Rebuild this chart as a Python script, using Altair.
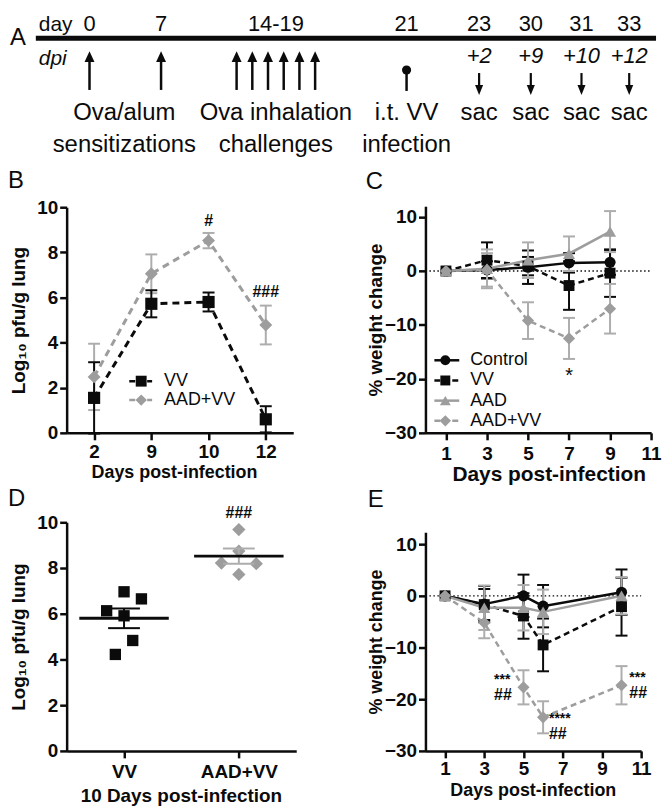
import altair as alt
import pandas as pd

FONT = "Liberation Sans"
BLK = "#0b0b0b"
GRY = "#9d9d9d"
EGRY = "#adadad"

# ---------------- Panel A (timeline) ----------------
a_scale_days = [0, 7, 14, 19, 21, 23, 30, 31, 33]
a_day_label_pos = [0, 7, 16.5, 21, 23, 30, 31, 33]
a_day_labels = ["0", "7", "14-19", "21", "23", "30", "31", "33"]
a_ova_days = [0, 7, 14, 15, 16, 17, 18, 19]
a_vv_day = [21]
a_sac_days = [23, 30, 31, 33]
a_dpi = ["+2", "+9", "+10", "+12"]
a_top_pos = [3.4, 16.5, 21, 23, 30, 31, 33]
a_top_text = ["Ova/alum", "Ova inhalation", "i.t. VV", "sac", "sac", "sac", "sac"]
a_bot_pos = [3.4, 16.5, 21]
a_bot_text = ["sensitizations", "challenges", "infection"]

# ---------------- Panel B ----------------
b_days = ["2", "9", "10", "12"]
b_vv_mean = [1.55, 5.72, 5.8, 0.6]
b_vv_sem = [1.58, 0.6, 0.42, 0.58]
b_aad_mean = [2.48, 7.05, 8.52, 4.78]
b_aad_sem = [1.47, 0.86, 0.34, 0.86]
b_ann_day = ["10", "12"]
b_ann_val = [9.4, 6.25]
b_ann_text = ["#", "###"]

# ---------------- Panel C ----------------
c_days = [1, 3, 5, 7, 9]
c_ctrl_mean = [0, 0.2, 0.7, 1.5, 1.6]
c_ctrl_sem = [0, 1.6, 3.1, 1.8, 2.3]
c_vv_mean = [0, 2.0, 0.9, -2.7, -0.4]
c_vv_sem = [0, 3.3, 1.7, 4.5, 4.4]
c_aad_mean = [0, 0.4, 2.0, 3.2, 7.3]
c_aad_sem = [0, 3.6, 3.3, 3.2, 3.8]
c_aadvv_mean = [0, 0.2, -9.2, -12.5, -7.0]
c_aadvv_sem = [0, 3.1, 3.4, 3.8, 4.6]
c_ann_day = [7]
c_ann_val = [-19.5]
c_ann_text = ["*"]

# ---------------- Panel D ----------------
d_groups = ["VV", "AAD+VV"]
d_vv_vals = [6.96, 6.65, 6.13, 5.91, 4.83, 4.22]
d_vv_slot = [0, 2, -2, 0, 1, -1]
d_aad_vals = [9.68, 8.74, 8.22, 8.19, 7.72]
d_aad_slot = [0, 0, -2, 2, 0]
d_means = [5.8, 8.52]
d_sems = [0.43, 0.33]
d_ann_grp = ["AAD+VV"]
d_ann_val = [10.4]
d_ann_text = ["###"]

# ---------------- Panel E ----------------
e_days = [1, 3, 5, 6, 10]
e_ctrl_mean = [0, -1.6, 0.0, -2.0, 0.7]
e_ctrl_sem = [0, 3.5, 4.1, 4.1, 4.4]
e_vv_mean = [0, -1.7, -3.9, -9.5, -2.1]
e_vv_sem = [0, 3.0, 4.4, 5.1, 5.6]
e_aad_mean = [0, -2.3, -2.3, -3.1, 0.0]
e_aad_sem = [0, 4.3, 4.4, 4.3, 3.6]
e_aadvv_mean = [0, -5.2, -17.7, -23.5, -17.3]
e_aadvv_sem = [0, 3.0, 3.3, 3.1, 3.7]
e_star_day = [3.5, 6.3, 10.4]
e_star_val = [-16.3, -23.8, -15.9]
e_star_text = ["***", "****", "***"]
e_hash_day = [3.5, 6.3, 10.4]
e_hash_val = [-19.2, -26.7, -18.85]
e_hash_text = ["##", "##", "##"]

# =====================================================
A_RANGE = [23, 95, 171, 250, 342, 415, 467, 518, 566]
ARROW_UP = "M0,0L0.5,1.1L-0.5,1.1Z"
ARROW_DN = "M0,0L0.45,-1.1L-0.45,-1.1Z"


def ax_a():
    return alt.X("d:Q", scale=alt.Scale(type="linear", domain=a_scale_days, range=A_RANGE,
                                        nice=False, zero=False), axis=None)


def txt(t):
    return pd.DataFrame({"t": [t]})


one = txt("")

a_layers = [
    alt.Chart(one).mark_rule(strokeWidth=0.1, opacity=0).encode(
        x=alt.value(-59), x2=alt.value(0), y=alt.value(0)),
    alt.Chart(txt("A")).mark_text(font=FONT, fontSize=24, align="left", baseline="middle", color=BLK).encode(
        x=alt.value(-57), y=alt.value(25), text="t:N"),
    alt.Chart(txt("day")).mark_text(font=FONT, fontSize=21, align="left", baseline="alphabetic", color=BLK).encode(
        x=alt.value(-28), y=alt.value(18), text="t:N"),
    alt.Chart(pd.DataFrame({"d": a_day_label_pos, "t": a_day_labels})).mark_text(
        font=FONT, fontSize=22, baseline="alphabetic", color=BLK).encode(x=ax_a(), y=alt.value(18), text="t:N"),
    alt.Chart(one).mark_rule(strokeWidth=5, color=BLK).encode(
        x=alt.value(-31), x2=alt.value(593), y=alt.value(25)),
    alt.Chart(txt("dpi")).mark_text(font=FONT, fontSize=21, fontStyle="italic", align="left",
                                    baseline="alphabetic", color=BLK).encode(
        x=alt.value(-28), y=alt.value(52), text="t:N"),
    alt.Chart(pd.DataFrame({"d": a_ova_days})).mark_rule(strokeWidth=2.5, color=BLK).encode(
        x=ax_a(), y=alt.value(77), y2=alt.value(45)),
    alt.Chart(pd.DataFrame({"d": a_ova_days})).mark_point(shape=ARROW_UP, filled=True, size=400, opacity=1,
                                                          color=BLK, strokeWidth=0).encode(
        x=ax_a(), y=alt.value(38)),
    alt.Chart(pd.DataFrame({"d": a_vv_day})).mark_rule(strokeWidth=2.5, color=BLK).encode(
        x=ax_a(), y=alt.value(57), y2=alt.value(78)),
    alt.Chart(pd.DataFrame({"d": a_vv_day})).mark_point(shape="circle", filled=True, size=85, opacity=1,
                                                        color=BLK).encode(x=ax_a(), y=alt.value(57)),
    alt.Chart(pd.DataFrame({"d": a_sac_days, "t": a_dpi})).mark_text(
        font=FONT, fontSize=22, fontStyle="italic", baseline="alphabetic", color=BLK).encode(
        x=ax_a(), y=alt.value(50), text="t:N"),
    alt.Chart(pd.DataFrame({"d": a_sac_days})).mark_rule(strokeWidth=2.2, color=BLK).encode(
        x=ax_a(), y=alt.value(60), y2=alt.value(78)),
    alt.Chart(pd.DataFrame({"d": a_sac_days})).mark_point(shape=ARROW_DN, filled=True, size=324, opacity=1,
                                                          color=BLK, strokeWidth=0).encode(
        x=ax_a(), y=alt.value(82)),
    alt.Chart(pd.DataFrame({"d": a_top_pos, "t": a_top_text})).mark_text(
        font=FONT, fontSize=24, baseline="middle", color=BLK).encode(x=ax_a(), y=alt.value(100), text="t:N"),
    alt.Chart(pd.DataFrame({"d": a_bot_pos, "t": a_bot_text})).mark_text(
        font=FONT, fontSize=24, baseline="middle", color=BLK).encode(x=ax_a(), y=alt.value(132), text="t:N"),
]
panelA = alt.layer(*a_layers).properties(width=228, height=104)

blank = alt.Chart(one).mark_point(opacity=0).encode(
    x=alt.value(0), y=alt.value(0)).properties(width=227, height=104)


# =====================================================
def series_df(x, mean, sem, xname="day"):
    df = pd.DataFrame({xname: x, "mean": mean, "sem": sem})
    df["lo"] = df["mean"] - df["sem"]
    df["hi"] = df["mean"] + df["sem"]
    df["idx"] = list(range(len(df)))
    return df


def series_layers(df, X, Y, color, ecolor, dash, shape, size, lw, cap):
    err = df[df["sem"] > 0]
    e = alt.Chart(err)
    errs = [
        e.mark_rule(color=ecolor, strokeWidth=2).encode(x=X(), y=Y("lo"), y2=alt.Y2("hi")),
        e.mark_tick(orient="horizontal", color=ecolor, size=cap, thickness=2, opacity=1).encode(x=X(), y=Y("lo")),
        e.mark_tick(orient="horizontal", color=ecolor, size=cap, thickness=2, opacity=1).encode(x=X(), y=Y("hi")),
    ]
    kw = dict(color=color, strokeWidth=lw)
    if dash:
        kw["strokeDash"] = dash
    line = alt.Chart(df).mark_line(**kw).encode(x=X(), y=Y("mean"), order="idx:Q")
    pts = alt.Chart(df).mark_point(shape=shape, filled=True, size=size, color=color, opacity=1,
                                   strokeWidth=0).encode(x=X(), y=Y("mean"))
    return errs, line, pts


def legend_layers(items, x0, x1, xm, xt, y0, dy):
    out = []
    for i, (name, color, dash, shape, size) in enumerate(items):
        y = y0 + i * dy
        kw = dict(color=color, strokeWidth=2.5)
        if dash:
            kw["strokeDash"] = dash
        out.append(alt.Chart(txt(name)).mark_rule(**kw).encode(x=alt.value(x0), x2=alt.value(x1), y=alt.value(y)))
        out.append(alt.Chart(txt(name)).mark_point(shape=shape, filled=True, size=size, color=color,
                                                   opacity=1, strokeWidth=0).encode(x=alt.value(xm), y=alt.value(y)))
        out.append(alt.Chart(txt(name)).mark_text(font=FONT, fontSize=18, align="left", baseline="middle",
                                                  color=BLK).encode(x=alt.value(xt), y=alt.value(y), text="t:N"))
    return out


def letter(t, x, y):
    return alt.Chart(txt(t)).mark_text(font=FONT, fontSize=24, align="left", baseline="middle", color=BLK).encode(
        x=alt.value(x), y=alt.value(y), text="t:N")


# ---------------- B ----------------
def XB():
    return alt.X("day:O", scale=alt.Scale(type="point", domain=b_days, padding=0.48),
                 axis=alt.Axis(title="Days post-infection", labelAngle=0, titleX=108, titleY=40,
                               titleBaseline="middle", titleFontSize=18, labelPadding=3))


def YB(f):
    return alt.Y(f"{f}:Q", scale=alt.Scale(domain=[0, 10], range=[228, 1], nice=False, zero=False),
                 axis=alt.Axis(values=[0, 2, 4, 6, 8, 10], title="Log₁₀ pfu/g lung", titleX=-48,
                               titleBaseline="middle", titleFontSize=19, labelPadding=2))


bv = series_layers(series_df(b_days, b_vv_mean, b_vv_sem), XB, YB, BLK, BLK, [7, 5], "square", 150, 3, 12)
ba = series_layers(series_df(b_days, b_aad_mean, b_aad_sem), XB, YB, GRY, EGRY, [7, 5], "diamond", 170, 3, 12)
b_ann = alt.Chart(pd.DataFrame({"day": b_ann_day, "v": b_ann_val, "t": b_ann_text})).mark_text(
    font=FONT, fontSize=16, fontWeight="bold", color=BLK).encode(x=XB(), y=YB("v"), text="t:N")
panelB = alt.layer(
    *ba[0], *bv[0], ba[1], bv[1], ba[2], bv[2], b_ann,
    *legend_layers([("VV", BLK, [6, 3], "square", 120), ("AAD+VV", GRY, [6, 3], "diamond", 130)],
                   63, 86, 75, 98, 176, 19),
    letter("B", -59, -25),
).properties(width=228, height=228)


# ---------------- C ----------------
def XC():
    return alt.X("day:Q", scale=alt.Scale(domain=[0, 11], nice=False, zero=False),
                 axis=alt.Axis(values=[1, 3, 5, 7, 9, 11], title="Days post-infection", titleX=124, titleY=42,
                               titleBaseline="middle", titleFontSize=21, labelPadding=5))


def YC(f):
    return alt.Y(f"{f}:Q", scale=alt.Scale(domain=[-30, 12], nice=False, zero=False),
                 axis=alt.Axis(values=[-30, -20, -10, 0, 10], title="% weight change", titleX=-50,
                               titleBaseline="middle", titleFontSize=19, labelPadding=2))


def weight_panel(days, data, X, Y, width, ann_layers, legend, let, letpos):
    (cm, cs), (vm, vs), (am, as_), (avm, avs) = data
    s_c = series_layers(series_df(days, cm, cs), X, Y, BLK, BLK, None, "circle", 125, 2.5, 12)
    s_v = series_layers(series_df(days, vm, vs), X, Y, BLK, BLK, [6, 4], "square", 120, 2.5, 12)
    s_a = series_layers(series_df(days, am, as_), X, Y, GRY, EGRY, None, "triangle-up", 150, 2.5, 12)
    s_av = series_layers(series_df(days, avm, avs), X, Y, GRY, EGRY, [6, 4], "diamond", 150, 2.5, 12)
    zero = alt.Chart(pd.DataFrame({"z": [0]})).mark_rule(strokeDash=[1.5, 2.5], strokeWidth=1.3, color=BLK).encode(
        y=Y("z"), x=alt.value(0), x2=alt.value(width))
    layers = [zero]
    for s in (s_c, s_v, s_a, s_av):
        layers += s[0]
    for s in (s_c, s_v, s_a, s_av):
        layers.append(s[1])
    for s in (s_c, s_v, s_a, s_av):
        layers.append(s[2])
    layers += ann_layers
    if legend:
        layers += legend_layers([("Control", BLK, None, "circle", 100), ("VV", BLK, [6, 3], "square", 100),
                                 ("AAD", GRY, None, "triangle-up", 120), ("AAD+VV", GRY, [6, 3], "diamond", 130)],
                                9, 34, 20, 45, 155, 20.3)
    layers.append(letter(let, *letpos))
    return alt.layer(*layers)


c_ann = alt.Chart(pd.DataFrame({"day": c_ann_day, "v": c_ann_val, "t": c_ann_text})).mark_text(
    font=FONT, fontSize=20, color=BLK).encode(x=XC(), y=YC("v"), text="t:N")

panelC = weight_panel(
    c_days,
    [(c_ctrl_mean, c_ctrl_sem), (c_vv_mean, c_vv_sem), (c_aad_mean, c_aad_sem), (c_aadvv_mean, c_aadvv_sem)],
    XC, YC, 227, [c_ann], True, "C", (-60, -24),
).properties(width=227, height=228)


# ---------------- D ----------------
def XD():
    return alt.X("grp:N", scale=alt.Scale(type="point", domain=d_groups, padding=0.5),
                 axis=alt.Axis(title="10 Days post-infection", labelAngle=0, titleX=115, titleY=45,
                               titleBaseline="middle", titleFontSize=19, labelPadding=5))


def YD(f):
    return alt.Y(f"{f}:Q", scale=alt.Scale(domain=[0, 10], nice=False, zero=False),
                 axis=alt.Axis(values=[0, 2, 4, 6, 8, 10], title="Log₁₀ pfu/g lung", titleX=-48,
                               titleBaseline="middle", titleFontSize=19, labelPadding=2))


XOFF = alt.XOffset("slot:Q", scale=alt.Scale(domain=[-2, 2], range=[-17.5, 17.5]))
d_vv_df = pd.DataFrame({"grp": "VV", "v": d_vv_vals, "slot": d_vv_slot})
d_aad_df = pd.DataFrame({"grp": "AAD+VV", "v": d_aad_vals, "slot": d_aad_slot})
d_sum = pd.DataFrame({"grp": d_groups, "mean": d_means, "sem": d_sems})
d_sum["lo"] = d_sum["mean"] - d_sum["sem"]
d_sum["hi"] = d_sum["mean"] + d_sum["sem"]
d_sum["ec"] = [BLK, EGRY]

d_layers = [
    alt.Chart(d_vv_df).mark_point(shape="square", filled=True, size=130, color=BLK, opacity=1, strokeWidth=0).encode(
        x=XD(), xOffset=XOFF, y=YD("v")),
    alt.Chart(d_aad_df).mark_point(shape="diamond", filled=True, size=180, color=GRY, opacity=1, strokeWidth=0).encode(
        x=XD(), xOffset=XOFF, y=YD("v")),
    alt.Chart(d_sum).mark_rule(strokeWidth=2).encode(x=XD(), y=YD("lo"), y2=alt.Y2("hi"),
                                                      color=alt.Color("ec:N", scale=None)),
    alt.Chart(d_sum).mark_tick(orient="horizontal", size=32, thickness=2, opacity=1).encode(
        x=XD(), y=YD("lo"), color=alt.Color("ec:N", scale=None)),
    alt.Chart(d_sum).mark_tick(orient="horizontal", size=32, thickness=2, opacity=1).encode(
        x=XD(), y=YD("hi"), color=alt.Color("ec:N", scale=None)),
    alt.Chart(d_sum).mark_tick(orient="horizontal", size=90, thickness=3, opacity=1, color=BLK).encode(
        x=XD(), y=YD("mean")),
    alt.Chart(pd.DataFrame({"grp": d_ann_grp, "v": d_ann_val, "t": d_ann_text})).mark_text(
        font=FONT, fontSize=16, fontWeight="bold", color=BLK).encode(x=XD(), y=YD("v"), text="t:N"),
    letter("D", -59, -23),
]
panelD = alt.layer(*d_layers).properties(width=231, height=230)


# ---------------- E ----------------
def XE():
    return alt.X("day:Q", scale=alt.Scale(domain=[0, 11], nice=False, zero=False),
                 axis=alt.Axis(values=[1, 3, 5, 7, 9, 11], title="Days post-infection", titleX=108, titleY=40,
                               titleBaseline="middle", titleFontSize=18, labelPadding=2))


def YE(f):
    return alt.Y(f"{f}:Q", scale=alt.Scale(domain=[-30, 12.3], range=[230, 10], nice=False, zero=False),
                 axis=alt.Axis(values=[-30, -20, -10, 0, 10], title="% weight change", titleX=-49,
                               titleBaseline="middle", titleFontSize=18, labelPadding=2))


e_stars = alt.Chart(pd.DataFrame({"day": e_star_day, "v": e_star_val, "t": e_star_text})).mark_text(
    font=FONT, fontSize=14, fontWeight="bold", align="left", baseline="middle", color=BLK).encode(
    x=XE(), y=YE("v"), text="t:N")
e_hashes = alt.Chart(pd.DataFrame({"day": e_hash_day, "v": e_hash_val, "t": e_hash_text})).mark_text(
    font=FONT, fontSize=16, fontWeight="bold", align="left", baseline="middle", color=BLK).encode(
    x=XE(), y=YE("v"), text="t:N")

panelE = weight_panel(
    e_days,
    [(e_ctrl_mean, e_ctrl_sem), (e_vv_mean, e_vv_sem), (e_aad_mean, e_aad_sem), (e_aadvv_mean, e_aadvv_sem)],
    XE, YE, 217, [e_stars, e_hashes], False, "E", (-58, -22),
).properties(width=217, height=230)

chart = alt.concat(
    panelA, blank, panelB, panelC, panelD, panelE,
    columns=2, spacing={"row": 90, "column": 130}, bounds="flush",
).properties(padding=0).configure_view(stroke=None).configure_axis(
    labelFont=FONT, labelFontSize=19, labelFontWeight="bold", labelColor=BLK,
    titleFont=FONT, titleFontWeight="bold", titleColor=BLK,
    domainColor=BLK, domainWidth=2.5, tickColor=BLK, tickWidth=2.5, tickSize=7,
    grid=False, labelFlush=False, labelOverlap=False,
)

chart.save("out.html", embed_options={"renderer": "svg", "actions": False})
